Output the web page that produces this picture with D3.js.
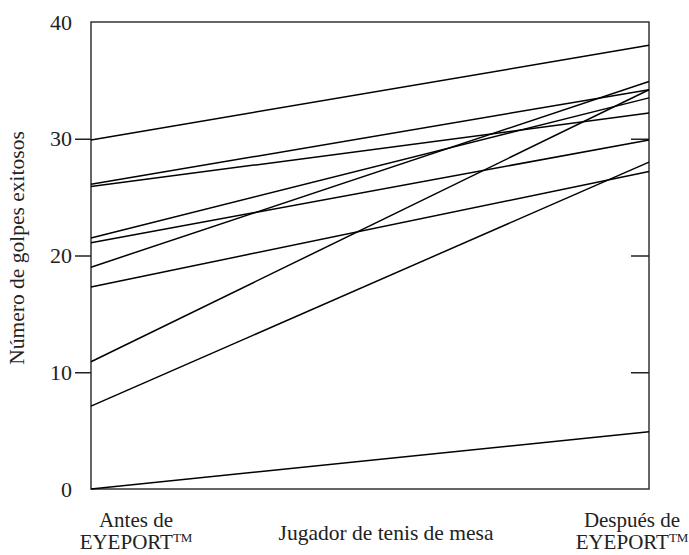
<!DOCTYPE html>
<html><head><meta charset="utf-8">
<script src="https://cdn.jsdelivr.net/npm/d3@7"></script>
<style>body{margin:0;background:#fff}svg{display:block}text{font-family:"Liberation Serif","Times New Roman",serif;fill:#222}</style>
</head><body><svg id="c" width="689" height="555"></svg>
<script>
const categories = ["Antes de EYEPORT™", "Después de EYEPORT™"];
const antes   = [29.9, 26.1, 25.9, 21.5, 21.1, 19.0, 17.3, 10.9, 7.1, 0];
const despues = [38.0, 34.2, 32.2, 33.5, 29.9, 34.9, 27.2, 34.2, 28.0, 4.9];
const yTicks = [0, 10, 20, 30, 40];

const svg = d3.select("#c");
const L = 91, R = 649, T = 22, B = 489;
const x = d3.scalePoint().domain(categories).range([L, R]);
const y = d3.scaleLinear().domain([0, 40]).range([B, T]);

// frame
svg.append("rect").attr("x", L).attr("y", T).attr("width", R - L).attr("height", B - T)
  .attr("fill", "none").attr("stroke", "#333").attr("stroke-width", 1.5);

// left axis ticks + labels
const la = svg.append("g").attr("transform", `translate(${L},0)`)
  .call(d3.axisLeft(y).tickValues(yTicks).tickSize(16).tickPadding(3).tickFormat(d3.format("d")));
la.select(".domain").remove();
la.selectAll(".tick line").attr("stroke", "#222").attr("stroke-width", 1.5)
  .filter(d => d === 0 || d === 40).remove();
la.selectAll(".tick text").attr("font-size", 22).attr("fill", "#222")
  .style("font-family", '"Liberation Serif",serif');

// right axis inward ticks
const ra = svg.append("g").attr("transform", `translate(${R},0)`)
  .call(d3.axisRight(y).tickValues([10, 20, 30]).tickSize(-18).tickFormat(""));
ra.select(".domain").remove();
ra.selectAll(".tick line").attr("stroke", "#222").attr("stroke-width", 1.5);

// lines
const pairs = antes.map((a, i) => [a, despues[i]]);
svg.append("g").selectAll("line").data(pairs).join("line")
  .attr("x1", x(categories[0])).attr("x2", x(categories[1]))
  .attr("y1", d => y(d[0])).attr("y2", d => y(d[1]))
  .attr("stroke", "#000").attr("stroke-width", 1.5);

// x labels
function catLabel(cx, first) {
  const t = svg.append("text").attr("text-anchor", "middle").attr("font-size", 21);
  t.append("tspan").attr("x", cx).attr("y", 527).text(first);
  const t2 = t.append("tspan").attr("x", cx).attr("y", 549).text("EYEPORT");
  t2.append("tspan").attr("font-size", 13).attr("dy", -7).text("TM");
}
catLabel(136, "Antes de");
catLabel(632, "Después de");
svg.append("text").attr("x", 386).attr("y", 540).attr("text-anchor", "middle")
  .attr("font-size", 21.5).text("Jugador de tenis de mesa");

// y label
svg.append("text").attr("transform", "translate(24,248) rotate(-90)")
  .attr("text-anchor", "middle").attr("font-size", 21.5).text("Número de golpes exitosos");
</script></body></html>
